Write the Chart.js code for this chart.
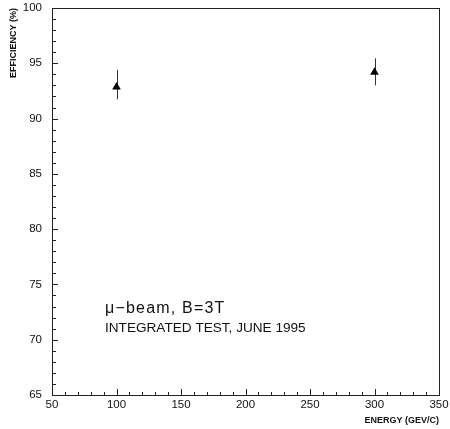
<!DOCTYPE html>
<html>
<head>
<meta charset="utf-8">
<script src="https://cdn.jsdelivr.net/npm/chart.js@4/dist/chart.umd.min.js"></script>
<style>
html,body{margin:0;padding:0;background:#fff;}
#wrap{width:450px;height:429px;}
</style>
</head>
<body>
<div id="wrap"><canvas id="c" width="450" height="429"></canvas></div>
<script>
// ---- data ----
const energies = [100, 300];
const efficiency = [92.85, 94.2];
const errUp = [1.55, 1.25];
const errDown = [1.1, 1.2];
const xTicks = [50, 100, 150, 200, 250, 300, 350];
const yTicks = [65, 70, 75, 80, 85, 90, 95, 100];
const noteLines = ['\u03bc\u2212beam, B=3T', 'INTEGRATED TEST, JUNE 1995'];
const xTitle = 'ENERGY (GEV/C)';
const yTitle = 'EFFICIENCY (%)';

const points = energies.map((e, i) => ({x: e, y: efficiency[i]}));

const framePlugin = {
  id: 'frame',
  beforeDatasetsDraw(chart) {
    const {ctx, scales: {x, y}} = chart;
    ctx.save();
    ctx.strokeStyle = '#333';
    ctx.lineWidth = 1;
    energies.forEach((e, i) => {
      const px = Math.round(x.getPixelForValue(e)) + 0.5;
      ctx.beginPath();
      ctx.moveTo(px, y.getPixelForValue(efficiency[i] + errUp[i]));
      ctx.lineTo(px, y.getPixelForValue(efficiency[i] - errDown[i]));
      ctx.stroke();
    });
    ctx.restore();
  },
  afterDraw(chart) {
    const {ctx, chartArea: a, scales: {x, y}} = chart;
    ctx.save();
    ctx.strokeStyle = '#222';
    ctx.lineWidth = 1;
    ctx.strokeRect(Math.round(a.left) + 0.5, Math.round(a.top) + 0.5,
                   Math.round(a.right - a.left), Math.round(a.bottom - a.top));
    ctx.beginPath();
    for (let v = x.min; v <= x.max + 1e-6; v += 10) {
      const px = Math.round(x.getPixelForValue(v)) + 0.5;
      const len = (v % 50 === 0) ? 6 : 3;
      ctx.moveTo(px, a.bottom);
      ctx.lineTo(px, a.bottom - len);
    }
    for (let v = y.min; v <= y.max + 1e-6; v += 1) {
      const py = Math.round(y.getPixelForValue(v)) + 0.5;
      const len = (v % 5 === 0) ? 6 : 4;
      ctx.moveTo(a.left, py);
      ctx.lineTo(a.left + len, py);
    }
    ctx.stroke();
    // annotation
    ctx.fillStyle = '#111';
    ctx.textBaseline = 'alphabetic';
    ctx.textAlign = 'left';
    const tx = a.left + 53;
    ctx.font = '16px "Liberation Sans", Arial, sans-serif';
    ctx.letterSpacing = '1.2px';
    ctx.fillText(noteLines[0], tx, a.top + 305);
    ctx.font = '13.6px "Liberation Sans", Arial, sans-serif';
    ctx.letterSpacing = '0px';
    ctx.fillText(noteLines[1], tx, a.top + 324);
    ctx.restore();
  }
};

new Chart(document.getElementById('c'), {
  type: 'scatter',
  data: {
    datasets: [{
      data: points,
      pointStyle: 'triangle',
      pointRadius: 5,
      pointHoverRadius: 5,
      backgroundColor: '#000',
      borderColor: '#000',
      borderWidth: 0
    }]
  },
  options: {
    responsive: false,
    animation: false,
    events: [],
    layout: {padding: {top: 8, right: 11, left: 0, bottom: 0}, autoPadding: false},
    plugins: {legend: {display: false}, tooltip: {enabled: false}},
    scales: {
      x: {
        type: 'linear', min: 50, max: 350,
        afterFit: s => { s.height = 34; s.paddingLeft = 0; s.paddingRight = 0; },
        afterBuildTicks: s => { s.ticks = xTicks.map(v => ({value: v})); },
        grid: {display: false, drawTicks: false},
        border: {display: false},
        ticks: {padding: 3, color: '#111', font: {family: '"Liberation Sans", Arial, sans-serif', size: 11.5}, maxRotation: 0},
        title: {display: true, text: xTitle, align: 'end', color: '#111',
                font: {family: '"Liberation Sans", Arial, sans-serif', size: 9, weight: 'bold'},
                padding: {top: 10, bottom: 3}}
      },
      y: {
        type: 'linear', min: 65, max: 100,
        afterFit: s => { s.width = 52; s.paddingTop = 0; s.paddingBottom = 0; },
        afterBuildTicks: s => { s.ticks = yTicks.map(v => ({value: v})); },
        grid: {display: false, drawTicks: false},
        border: {display: false},
        ticks: {padding: 10, color: '#111', font: {family: '"Liberation Sans", Arial, sans-serif', size: 11.5}},
        title: {display: true, text: yTitle, align: 'end', color: '#111',
                font: {family: '"Liberation Sans", Arial, sans-serif', size: 9, weight: 'bold'},
                padding: {top: 8, bottom: 0}}
      }
    }
  },
  plugins: [framePlugin]
});
</script>
</body>
</html>
